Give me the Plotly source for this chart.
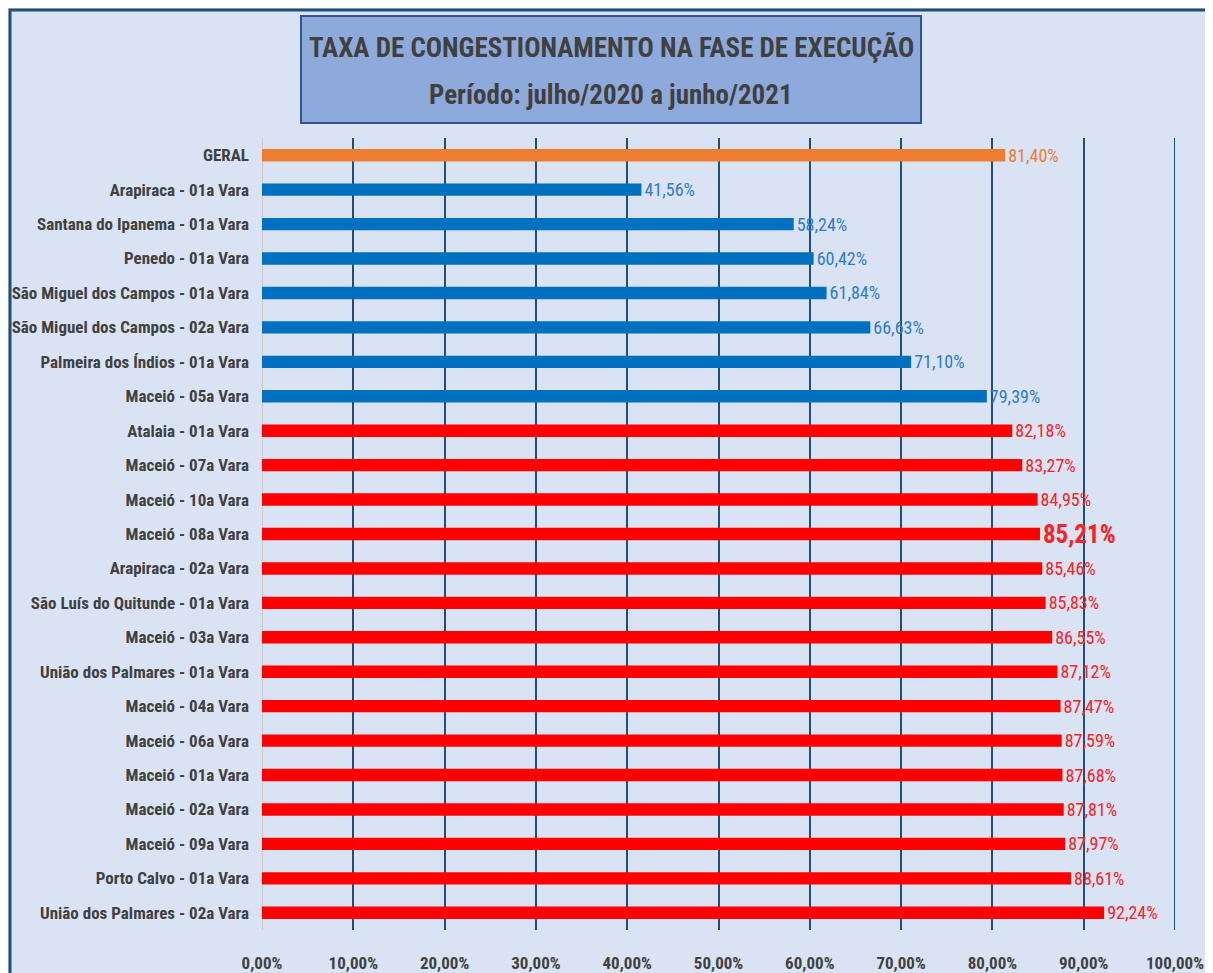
import plotly.graph_objects as go

categories = [
    "GERAL", "Arapiraca - 01a Vara", "Santana do Ipanema - 01a Vara", "Penedo - 01a Vara",
    "São Miguel dos Campos - 01a Vara", "São Miguel dos Campos - 02a Vara",
    "Palmeira dos Índios - 01a Vara", "Maceió - 05a Vara", "Atalaia - 01a Vara",
    "Maceió - 07a Vara", "Maceió - 10a Vara", "Maceió - 08a Vara", "Arapiraca - 02a Vara",
    "São Luís do Quitunde - 01a Vara", "Maceió - 03a Vara", "União dos Palmares - 01a Vara",
    "Maceió - 04a Vara", "Maceió - 06a Vara", "Maceió - 01a Vara", "Maceió - 02a Vara",
    "Maceió - 09a Vara", "Porto Calvo - 01a Vara", "União dos Palmares - 02a Vara",
]
values = [81.40, 41.56, 58.24, 60.42, 61.84, 66.63, 71.10, 79.39, 82.18, 83.27, 84.95,
          85.21, 85.46, 85.83, 86.55, 87.12, 87.47, 87.59, 87.68, 87.81, 87.97, 88.61, 92.24]
groups = ["geral"] + ["blue"] * 7 + ["red"] * 15
highlight = "Maceió - 08a Vara"
tick_vals = [0, 10, 20, 30, 40, 50, 60, 70, 80, 90, 100]
tick_text = [f"{v:.2f}".replace(".", ",") + "%" for v in tick_vals]

bar_colors = {"geral": "#ed7d31", "blue": "#0070c0", "red": "#ff0000"}
text_colors = {"geral": "#ed7d31", "blue": "#2e7bd0", "red": "#ff2020"}

# page offset (browser body margin)
OX, OY = 8, 8
PW, PH = 1213, 973
L, R, T, B = 262, 1175, 138, 930   # plot area in page pixels
pw, ph = R - L, B - T

def px_x(p):
    return (p - L) / pw

def px_y(p):
    return (B - p) / ph

texts = [f"{v:.2f}".replace(".", ",") + "%" for v in values]
texts = [f"<b>{t}</b>" if c == highlight else t for t, c in zip(texts, categories)]
sizes = [25 if c == highlight else 18 for c in categories]

font_fam = "Liberation Sans Narrow, Arial Narrow, Roboto Condensed, Liberation Sans, sans-serif"

fig = go.Figure(go.Bar(
    y=categories, x=values, orientation="h",
    marker=dict(color=[bar_colors[g] for g in groups], line=dict(width=0)),
    width=0.36,
    text=texts, textposition="outside", cliponaxis=False, constraintext="none",
    textfont=dict(color=[text_colors[g] for g in groups], size=sizes, family=font_fam),
    hoverinfo="skip",
))

fig.update_layout(
    width=PW - OX, height=PH - OY,
    paper_bgcolor="#dae3f3", plot_bgcolor="#dae3f3",
    margin=dict(l=L - OX, r=PW - R, t=T - OY, b=PH - B, pad=0, autoexpand=False),
    separators=",.",
    showlegend=False,
    font=dict(family=font_fam, color="#404040"),
)
fig.update_xaxes(
    range=[0, 100], tickvals=tick_vals, ticktext=tick_text,
    showgrid=True, gridcolor="#1f4e79", gridwidth=2,
    zeroline=False, showline=False, ticks="", automargin=False,
    ticklabelstandoff=21,
    tickfont=dict(size=17, color="#404040", family=font_fam, weight="bold"),
)
fig.update_yaxes(
    autorange="reversed", showgrid=False, zeroline=False, showline=False, ticks="",
    automargin=False, ticklabelstandoff=12,
    tickfont=dict(size=17, color="#404040", family=font_fam, weight="bold"),
)

shapes = [
    dict(type="line", xref="x", yref="paper", x0=0, x1=0, y0=0, y1=1,
         line=dict(color="#c9c9c9", width=2), layer="below"),
    dict(type="line", xref="x", yref="paper", x0=100, x1=100, y0=0, y1=1,
         line=dict(color="#1f4e79", width=2), layer="below"),
    dict(type="rect", xref="paper", yref="paper",
         x0=px_x(10), x1=px_x(1240), y0=px_y(1000), y1=px_y(10),
         line=dict(color="#1f4e79", width=3), fillcolor="rgba(0,0,0,0)"),
    dict(type="rect", xref="paper", yref="paper",
         x0=px_x(301), x1=px_x(921), y0=px_y(123), y1=px_y(16),
         line=dict(color="#2f5597", width=2), fillcolor="#8eaadb"),
]
fig.update_layout(shapes=shapes)

fig.add_annotation(xref="paper", yref="paper", x=px_x(611), y=px_y(48),
                   xanchor="center", yanchor="middle",
                   text="<b>TAXA DE CONGESTIONAMENTO NA FASE DE EXECUÇÃO</b>",
                   showarrow=False, font=dict(size=27, color="#404040", family=font_fam))
fig.add_annotation(xref="paper", yref="paper", x=px_x(611), y=px_y(95),
                   xanchor="center", yanchor="middle",
                   text="<b>Período: julho/2020 a junho/2021</b>",
                   showarrow=False, font=dict(size=27, color="#404040", family=font_fam))

fig.write_html("out.html")
